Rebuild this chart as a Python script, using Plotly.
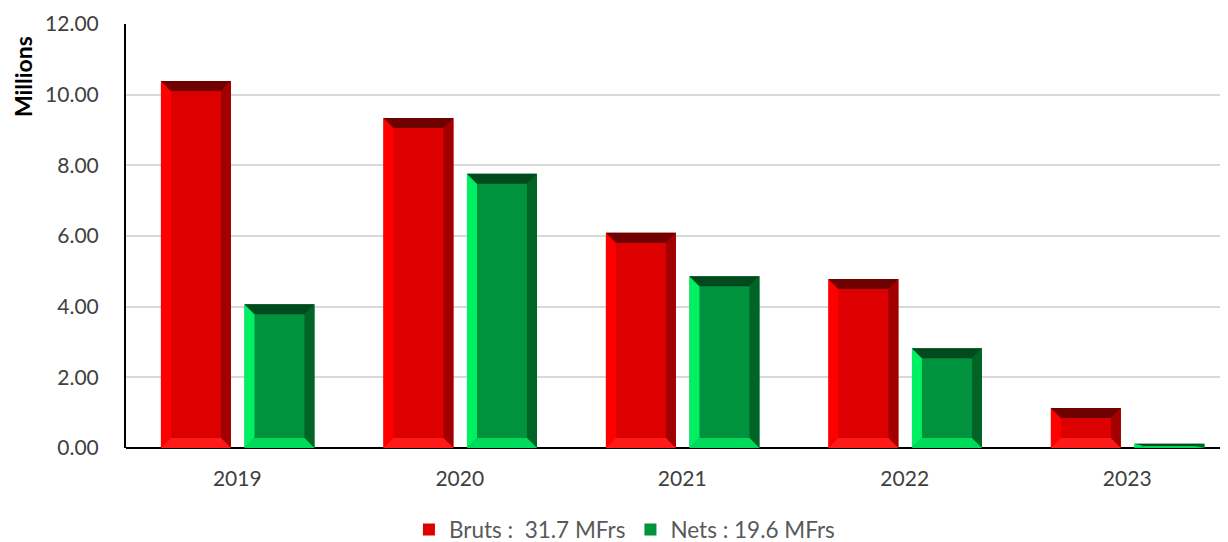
import plotly.graph_objects as go

years = ["2019", "2020", "2021", "2022", "2023"]
bruts = [10.39, 9.34, 6.09, 4.78, 1.13]
nets = [4.07, 7.76, 4.86, 2.82, 0.12]
series_names = ["Bruts :  31.7 MFrs", "Nets : 19.6 MFrs"]
y_title = "Millions"

FONT = "Lato, Open Sans, sans-serif"

# bar geometry (fractions of a category slot)
BAR_W = 0.3146
OFFSETS = [-0.343, 0.0325]
PX_X = 222.5   # px per category unit
PX_Y = 424 / 12  # px per y unit
BEVEL = 10

styles = [
    dict(face="#DC0000", top="#6E0000", left="#FF0000", right="#A20000", bottom="#FF1A1A"),
    dict(face="#00923C", top="#004A1E", left="#00F064", right="#006427", bottom="#00DA5A"),
]

fig = go.Figure()
xs = list(range(len(years)))
shapes = []
for vals, name, off, st in zip([bruts, nets], series_names, OFFSETS, styles):
    fig.add_trace(go.Bar(
        x=xs, y=vals, name=name, width=BAR_W, offset=off,
        marker=dict(color=st["face"], line=dict(width=0)),
        hoverinfo="x+y",
    ))
    for xi, h in zip(xs, vals):
        x0 = xi + off
        x1 = x0 + BAR_W
        dx = BEVEL / PX_X
        dy = min(BEVEL / PX_Y, h / 2)
        polys = [
            ("left", [(x0, 0), (x0, h), (x0 + dx, h - dy), (x0 + dx, dy)]),
            ("right", [(x1, 0), (x1, h), (x1 - dx, h - dy), (x1 - dx, dy)]),
            ("bottom", [(x0, 0), (x1, 0), (x1 - dx, dy), (x0 + dx, dy)]),
            ("top", [(x0, h), (x1, h), (x1 - dx, h - dy), (x0 + dx, h - dy)]),
        ]
        for key, pts in polys:
            path = "M " + " L ".join(f"{px},{py}" for px, py in pts) + " Z"
            shapes.append(dict(type="path", path=path, xref="x", yref="y",
                               fillcolor=st[key], line=dict(width=0), layer="above"))

fig.update_layout(
    width=1228, height=542,
    margin=dict(l=118, r=8, t=16, b=102, autoexpand=False),
    paper_bgcolor="white", plot_bgcolor="white",
    font=dict(family=FONT, size=21, color="#404040"),
    barmode="overlay",
    shapes=shapes,
    showlegend=True,
    legend=dict(orientation="h", xref="container", yref="container",
                x=0.502, xanchor="center", y=0.037, yanchor="middle",
                font=dict(size=22.5, color="#595959"), itemwidth=30,
                traceorder="normal"),
    annotations=[dict(text=f"<b>{y_title}</b>", xref="paper", yref="paper",
                      x=-0.0935, y=0.877, textangle=-90, showarrow=False,
                      xanchor="center", yanchor="middle",
                      font=dict(size=23, color="#000000"))],
    xaxis=dict(
        range=[-0.5, 4.453], tickvals=xs, ticktext=years,
        showgrid=False, zeroline=False, automargin=False,
        showline=False, ticks="", ticklabelstandoff=16,
        tickfont=dict(size=21, color="#404040"),
        fixedrange=True,
    ),
    yaxis=dict(
        range=[0, 12], dtick=2, tickformat=".2f", automargin=False,
        showgrid=True, gridcolor="#D9D9D9", gridwidth=2,
        zeroline=True, zerolinecolor="#000000", zerolinewidth=2,
        showline=True, linecolor="#000000", linewidth=2,
        ticks="", ticklabelstandoff=21,
        tickfont=dict(size=21, color="#404040"),
        fixedrange=True,
    ),
)

fig.write_html("out.html")
